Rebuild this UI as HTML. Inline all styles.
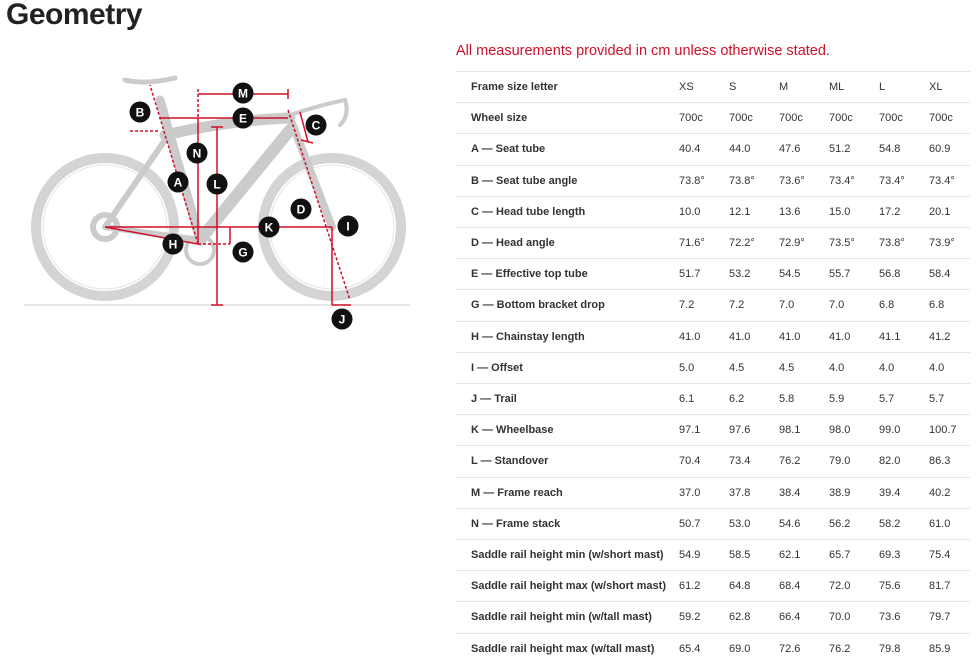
<!DOCTYPE html>
<html><head><style>
body{margin:0;width:978px;height:666px;overflow:hidden;background:#fff;font-family:"Liberation Sans",sans-serif;position:relative}
h1{position:absolute;left:6px;top:-2px;margin:0;font-size:30px;font-weight:bold;color:#222;letter-spacing:-0.5px}
.note{position:absolute;left:456px;top:43px;font-size:14.5px;color:#d0102a}
.row{position:absolute;left:456px;width:514px;height:31px;border-top:1.5px solid #e5e5e5;font-size:11px;color:#333}
.row span{position:absolute;top:9px}
.row span:nth-child(1){left:15px;font-weight:bold}
.row span:nth-child(2){left:223px}
.row span:nth-child(3){left:273px}
.row span:nth-child(4){left:323px}
.row span:nth-child(5){left:373px}
.row span:nth-child(6){left:423px}
.row span:nth-child(7){left:473px}
</style></head><body>
<h1>Geometry</h1>
<div class="note">All measurements provided in cm unless otherwise stated.</div>
<svg width="440" height="340" style="position:absolute;left:0;top:0" viewBox="0 0 440 340">
<line x1="24" y1="305" x2="410" y2="305" stroke="#ddd" stroke-width="1.5"/>
<g fill="none" stroke="#d4d4d4">
<circle cx="105" cy="227" r="69" stroke-width="10"/>
<circle cx="332" cy="227" r="69" stroke-width="10"/>
<circle cx="105" cy="227" r="62" stroke-width="1" stroke="#e4e4e4"/>
<circle cx="332" cy="227" r="62" stroke-width="1" stroke="#e4e4e4"/>
</g>
<g stroke="#cbcbcb" stroke-linecap="round" fill="none">
<path d="M200 240 L160 100" stroke-width="9"/>
<path d="M165 135 Q230 120 290 118" stroke-width="11"/>
<path d="M200 240 L290 130" stroke-width="12"/>
<path d="M290 118 L332 227" stroke-width="8"/>
<path d="M105 227 L165 140" stroke-width="6"/>
<path d="M105 227 L200 240" stroke-width="6"/>
<path d="M125 80 Q145 85 175 78" stroke-width="5"/>
<path d="M290 115 Q320 105 345 100 Q350 115 340 125" stroke-width="4"/>
<circle cx="200" cy="250" r="14" stroke-width="4"/>
<circle cx="105" cy="227" r="12" stroke-width="6"/>
</g>
<g stroke="#d0102a" stroke-width="1.5" fill="none">
<line x1="198" y1="94" x2="288" y2="94"/><line x1="198" y1="89" x2="198" y2="118" stroke-dasharray="3 2"/><line x1="288" y1="89" x2="288" y2="99"/>
<line x1="160" y1="118" x2="288" y2="118"/>
<line x1="198" y1="118" x2="198" y2="244"/>
<line x1="217" y1="127" x2="217" y2="305"/><line x1="211" y1="127" x2="223" y2="127"/><line x1="211" y1="305" x2="223" y2="305"/>
<line x1="105" y1="227" x2="332" y2="227"/>
<line x1="105" y1="227" x2="198" y2="244"/>
<line x1="198" y1="244" x2="230" y2="244" stroke-dasharray="3 2"/><line x1="230" y1="227" x2="230" y2="244"/>
<line x1="198" y1="244" x2="150" y2="85" stroke-dasharray="3 2"/>
<line x1="288" y1="110" x2="350" y2="300" stroke-dasharray="3 2"/>
<line x1="332" y1="227" x2="332" y2="305"/><line x1="332" y1="305" x2="351" y2="305"/>
<line x1="301" y1="140" x2="313" y2="143"/><line x1="300" y1="112" x2="308" y2="142"/>
<line x1="130" y1="131" x2="160" y2="131" stroke-dasharray="3 2"/>
</g>
<g fill="#111">
<circle cx="243" cy="93" r="10.5"/><circle cx="243" cy="118" r="10.5"/><circle cx="316" cy="125" r="10.5"/><circle cx="140" cy="112" r="10.5"/>
<circle cx="197" cy="153" r="10.5"/><circle cx="178" cy="182" r="10.5"/><circle cx="217" cy="184" r="10.5"/><circle cx="301" cy="209" r="10.5"/>
<circle cx="269" cy="227" r="10.5"/><circle cx="348" cy="226" r="10.5"/><circle cx="173" cy="244" r="10.5"/><circle cx="243" cy="252" r="10.5"/><circle cx="342" cy="319" r="10.5"/>
</g>
<g font-family="Liberation Sans" font-weight="bold" font-size="12" fill="#fff" text-anchor="middle">
<text x="243" y="97.5">M</text><text x="243" y="122.5">E</text><text x="316" y="129.5">C</text><text x="140" y="116.5">B</text>
<text x="197" y="157.5">N</text><text x="178" y="186.5">A</text><text x="217" y="188.5">L</text><text x="301" y="213.5">D</text>
<text x="269" y="231.5">K</text><text x="348" y="230.5">I</text><text x="173" y="248.5">H</text><text x="243" y="256.5">G</text><text x="342" y="323.5">J</text>
</g>
</svg>
<div class="row" style="top:71px"><span>Frame size letter</span><span>XS</span><span>S</span><span>M</span><span>ML</span><span>L</span><span>XL</span></div>
<div class="row" style="top:102.2px"><span>Wheel size</span><span>700c</span><span>700c</span><span>700c</span><span>700c</span><span>700c</span><span>700c</span></div>
<div class="row" style="top:133.4px"><span>A — Seat tube</span><span>40.4</span><span>44.0</span><span>47.6</span><span>51.2</span><span>54.8</span><span>60.9</span></div>
<div class="row" style="top:164.6px"><span>B — Seat tube angle</span><span>73.8°</span><span>73.8°</span><span>73.6°</span><span>73.4°</span><span>73.4°</span><span>73.4°</span></div>
<div class="row" style="top:195.8px"><span>C — Head tube length</span><span>10.0</span><span>12.1</span><span>13.6</span><span>15.0</span><span>17.2</span><span>20.1</span></div>
<div class="row" style="top:227px"><span>D — Head angle</span><span>71.6°</span><span>72.2°</span><span>72.9°</span><span>73.5°</span><span>73.8°</span><span>73.9°</span></div>
<div class="row" style="top:258.2px"><span>E — Effective top tube</span><span>51.7</span><span>53.2</span><span>54.5</span><span>55.7</span><span>56.8</span><span>58.4</span></div>
<div class="row" style="top:289.4px"><span>G — Bottom bracket drop</span><span>7.2</span><span>7.2</span><span>7.0</span><span>7.0</span><span>6.8</span><span>6.8</span></div>
<div class="row" style="top:320.6px"><span>H — Chainstay length</span><span>41.0</span><span>41.0</span><span>41.0</span><span>41.0</span><span>41.1</span><span>41.2</span></div>
<div class="row" style="top:351.8px"><span>I — Offset</span><span>5.0</span><span>4.5</span><span>4.5</span><span>4.0</span><span>4.0</span><span>4.0</span></div>
<div class="row" style="top:383px"><span>J — Trail</span><span>6.1</span><span>6.2</span><span>5.8</span><span>5.9</span><span>5.7</span><span>5.7</span></div>
<div class="row" style="top:414.2px"><span>K — Wheelbase</span><span>97.1</span><span>97.6</span><span>98.1</span><span>98.0</span><span>99.0</span><span>100.7</span></div>
<div class="row" style="top:445.4px"><span>L — Standover</span><span>70.4</span><span>73.4</span><span>76.2</span><span>79.0</span><span>82.0</span><span>86.3</span></div>
<div class="row" style="top:476.6px"><span>M — Frame reach</span><span>37.0</span><span>37.8</span><span>38.4</span><span>38.9</span><span>39.4</span><span>40.2</span></div>
<div class="row" style="top:507.8px"><span>N — Frame stack</span><span>50.7</span><span>53.0</span><span>54.6</span><span>56.2</span><span>58.2</span><span>61.0</span></div>
<div class="row" style="top:539px"><span>Saddle rail height min (w/short mast)</span><span>54.9</span><span>58.5</span><span>62.1</span><span>65.7</span><span>69.3</span><span>75.4</span></div>
<div class="row" style="top:570.2px"><span>Saddle rail height max (w/short mast)</span><span>61.2</span><span>64.8</span><span>68.4</span><span>72.0</span><span>75.6</span><span>81.7</span></div>
<div class="row" style="top:601.4px"><span>Saddle rail height min (w/tall mast)</span><span>59.2</span><span>62.8</span><span>66.4</span><span>70.0</span><span>73.6</span><span>79.7</span></div>
<div class="row" style="top:632.6px"><span>Saddle rail height max (w/tall mast)</span><span>65.4</span><span>69.0</span><span>72.6</span><span>76.2</span><span>79.8</span><span>85.9</span></div>
</body></html>
